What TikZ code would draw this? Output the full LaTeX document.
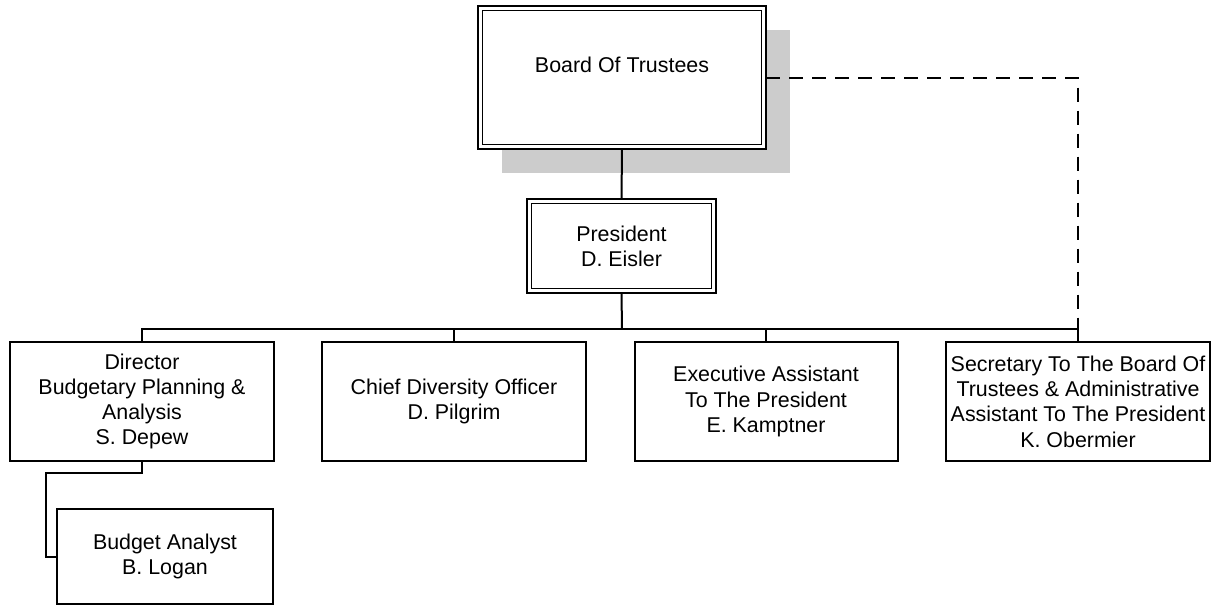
\documentclass[tikz,border=0pt]{standalone}
\usepackage{fontspec}
\setmainfont{Liberation Sans}
\usetikzlibrary{backgrounds}
\definecolor{shadowgray}{HTML}{CCCCCC}
\tikzset{
  box/.style={draw, line width=2pt, fill=white, align=center, inner sep=0pt, outer sep=0pt,
    font=\fontsize{21.4}{25.3}\selectfont},
  dblbox/.style={box, line width=2.5pt},
  conn/.style={line width=2pt},
  dashconn/.style={line width=2pt, dash pattern=on 14pt off 9pt},
  innerline/.style={line width=1.2pt}
}
\begin{document}
\begin{tikzpicture}[x=1pt,y=1pt]
\useasboundingbox (0,0) rectangle (1216,-606);
% nodes
\node[dblbox, minimum width=288, minimum height=143] (board) at (622,-77.5) {Board Of Trustees\\\mbox{}};
\node[dblbox, minimum width=189, minimum height=94] (pres) at (621.5,-246) {President\\D. Eisler};
\node[box, minimum width=264, minimum height=119] (dir) at (142,-401.5) {Director\\Budgetary Planning \&\\Analysis\\S. Depew};
\node[box, minimum width=264, minimum height=119] (cdo) at (454,-401.5) {Chief Diversity Officer\\D. Pilgrim};
\node[box, minimum width=263, minimum height=119] (exa) at (766,-401.5) {Executive Assistant\\To The President\\E. Kamptner};
\node[box, minimum width=264, minimum height=119] (sec) at (1078,-401.5) {Secretary To The Board Of\\Trustees \& Administrative\\Assistant To The President\\K. Obermier};
\node[box, minimum width=216, minimum height=95] (ba) at (165,-556.5) {Budget Analyst\\B. Logan};
% inner lines of double boxes
\draw[innerline] ([shift={(4.5,-4.5)}]board.north west) rectangle ([shift={(-4.5,4.5)}]board.south east);
\draw[innerline] ([shift={(4.5,-4.5)}]pres.north west) rectangle ([shift={(-4.5,4.5)}]pres.south east);
% shadow
\begin{scope}[on background layer]
\fill[shadowgray] ([shift={(24,-24)}]board.south west) rectangle ([shift={(24,-24)}]board.north east);
\end{scope}
% connectors
\coordinate (bus) at (622,-329);
\coordinate (bend) at (46,-556.5);
\draw[conn] (board.south) -- (pres.north);
\draw[conn] (pres.south) -- (bus);
\foreach \c in {dir,cdo,exa,sec}{
  \draw[conn] (bus) -| (\c.north);
}
\draw[conn] (dir.south) -- ++(0,-12) -| (bend) -- (ba.west);
\draw[dashconn] (board.east) -| (sec.north |- bus);
\end{tikzpicture}
\end{document}
